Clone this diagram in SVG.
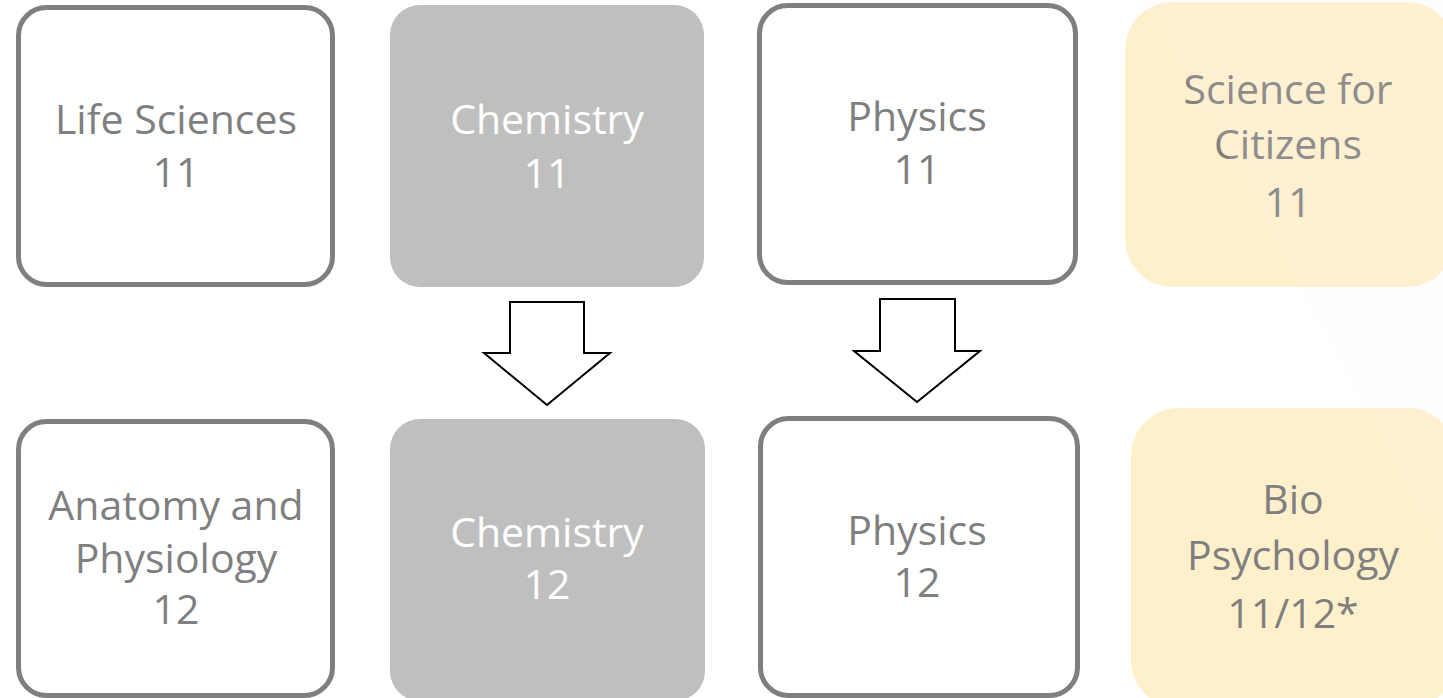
<svg xmlns="http://www.w3.org/2000/svg" width="1443" height="698" viewBox="0 0 1443 698">
<style>
.out{fill:#ffffff;stroke:#7f7f7f;stroke-width:5}
.gray{fill:#bfbfbf}
.yel{fill:#fff0cc}
text{font-family:"Open Sans","Noto Sans",sans-serif;font-size:41px;text-anchor:middle}
.dt{fill:#7f7f7f}
.wt{fill:#ffffff}
.arr{fill:#ffffff;stroke:#000000;stroke-width:2;stroke-linejoin:miter}
</style>
<rect width="1443" height="698" fill="#ffffff"/>
<g id="life-sciences-11">
<rect class="out" x="18.5" y="7.5" width="314" height="277" rx="28"/>
<text class="dt" x="176" y="134">Life Sciences</text>
<text class="dt" x="176" y="187">11</text>
</g>
<g id="chemistry-11">
<rect class="gray" x="390" y="5" width="314" height="282" rx="30"/>
<text class="wt" x="547" y="134">Chemistry</text>
<text class="wt" x="547" y="188">11</text>
</g>
<g id="physics-11">
<rect class="out" x="759.5" y="5.5" width="316" height="277" rx="28"/>
<text class="dt" x="917" y="131">Physics</text>
<text class="dt" x="917" y="184">11</text>
</g>
<g id="science-for-citizens-11">
<rect class="yel" x="1125" y="2" width="330" height="285" rx="48"/>
<text class="dt" x="1288" y="104">Science for</text>
<text class="dt" x="1288" y="159">Citizens</text>
<text class="dt" x="1288" y="217">11</text>
</g>
<g id="anatomy-physiology-12">
<rect class="out" x="18.5" y="421.5" width="314" height="274" rx="28"/>
<text class="dt" x="176" y="520">Anatomy and</text>
<text class="dt" x="176" y="573">Physiology</text>
<text class="dt" x="176" y="624">12</text>
</g>
<g id="chemistry-12">
<rect class="gray" x="390" y="419" width="315" height="282" rx="30"/>
<text class="wt" x="547" y="547">Chemistry</text>
<text class="wt" x="547" y="599">12</text>
</g>
<g id="physics-12">
<rect class="out" x="760.5" y="418.5" width="317" height="277" rx="28"/>
<text class="dt" x="917" y="545">Physics</text>
<text class="dt" x="917" y="597">12</text>
</g>
<g id="bio-psychology">
<rect class="yel" x="1131" y="408" width="325" height="300" rx="48"/>
<text class="dt" x="1293" y="514">Bio</text>
<text class="dt" x="1293" y="570">Psychology</text>
<text class="dt" x="1293" y="628">11/12*</text>
</g>
<g id="connectors">
<polygon class="arr" points="510,302 584,302 584,353 610,353 547,405 484,353 510,353"/>
<polygon class="arr" points="880,299 955,299 955,351 980,351 917,402 854,351 880,351"/>
</g>
<polygon points="1144,0 1443,0 1443,553" fill="#f4f4f6" opacity="0.12"/>
</svg>
